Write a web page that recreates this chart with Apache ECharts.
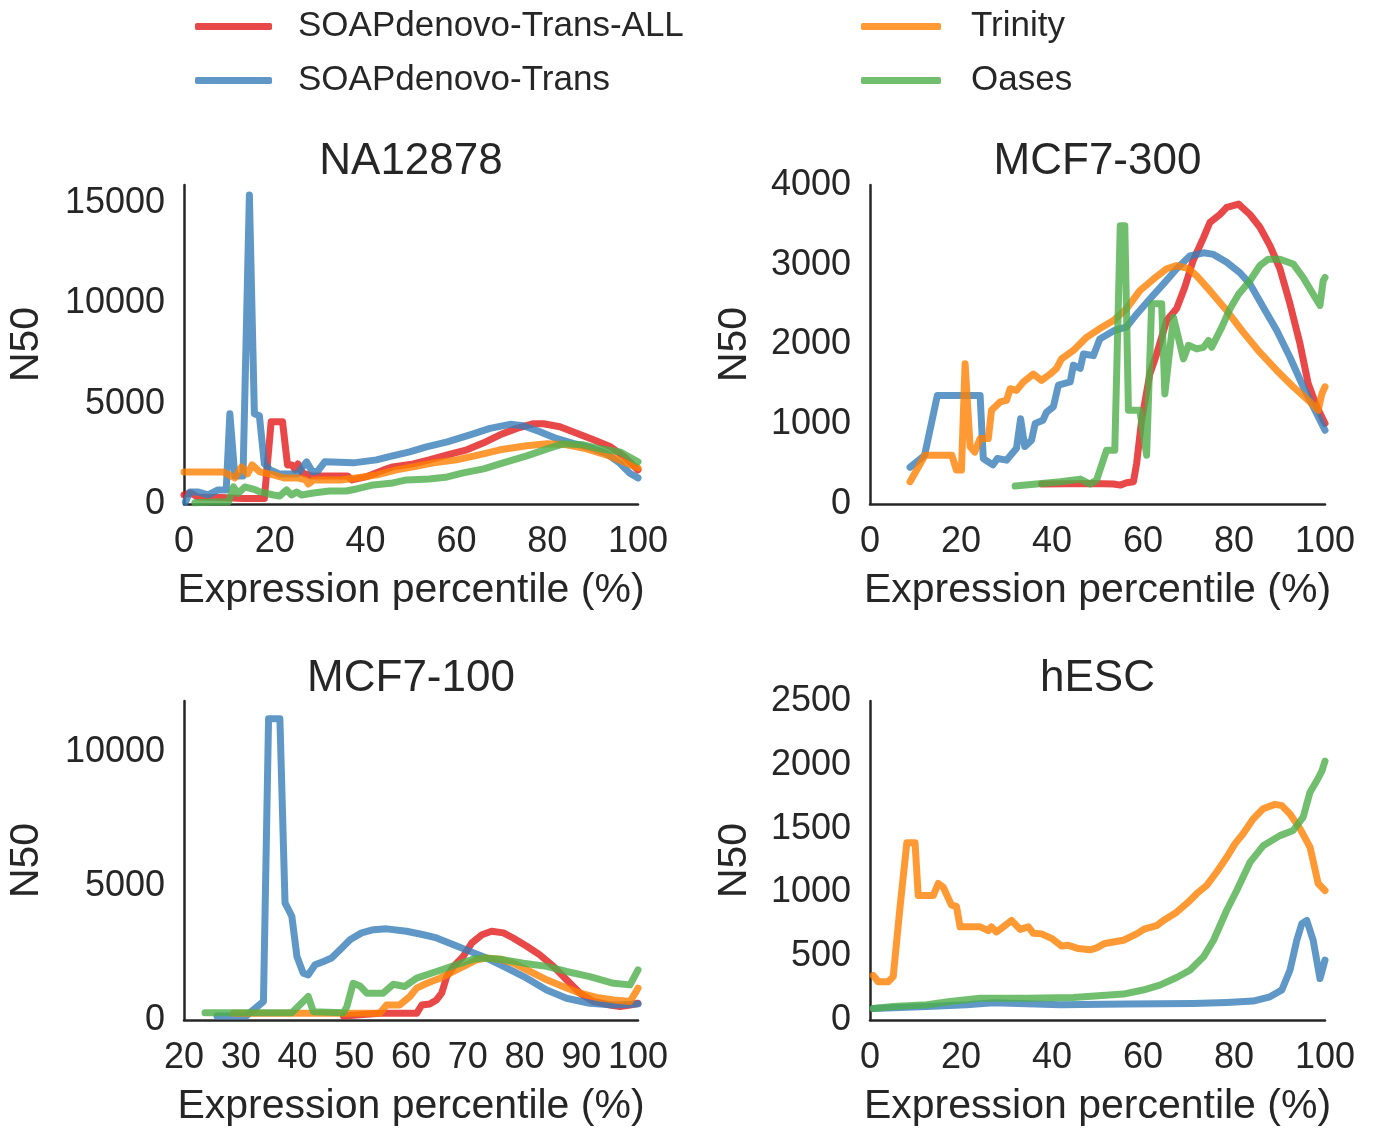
<!DOCTYPE html>
<html>
<head>
<meta charset="utf-8">
<script src="https://cdn.jsdelivr.net/npm/echarts@6/dist/echarts.min.js"></script>
<style>
  html, body { margin: 0; padding: 0; background: #fff; }
  #main { width: 1373px; height: 1129px; }
</style>
</head>
<body>
<div id="main"></div>
<script type="text/javascript">
// series names and panel titles
var names = ['SOAPdenovo-Trans-ALL', 'SOAPdenovo-Trans', 'Trinity', 'Oases'];
var titles = ['NA12878', 'MCF7-300', 'MCF7-100', 'hESC'];

// NA12878 : [percentile, N50]
var naAll = [[0,450],[1.5,550],[3,350],[8,330],[13,280],[17.7,280],[19.2,4100],[21.7,4100],[22.8,1950],[23.8,1950],[24.5,1700],[25.1,2000],[26,1550],[28,1400],[36,1400],[37,1200],[40,1350],[44,1700],[46,1850],[50.5,2000],[54,2200],[58,2450],[62.3,2700],[66,3050],[69.6,3450],[73.3,3770],[77,4000],[79.2,4000],[82.8,3850],[86.5,3530],[90.2,3200],[93.8,2870],[96.8,2390],[100,1700]];
var naTrans = [[0.3,100],[1.3,600],[3,600],[5.3,450],[7.5,700],[9.3,700],[10.1,4500],[11.2,1400],[13,1400],[14.4,15400],[15.5,4500],[16.6,4400],[17.7,2000],[19,1700],[21,1500],[25,1500],[27,2100],[28.3,1600],[29.5,1650],[31,2100],[37.3,2050],[42.4,2200],[45,2350],[49.7,2600],[53.4,2850],[58,3100],[63,3450],[67.4,3770],[71.8,3970],[74.7,3900],[78.4,3600],[82,3270],[85.7,3020],[90,2770],[93,2520],[96,2030],[98.2,1530],[100,1300]];
var naTrin = [[0,1600],[8.6,1600],[11.2,1300],[12.7,1850],[14,1500],[15,1950],[16.7,1600],[19.7,1450],[22,1300],[25,1300],[26.8,1200],[27.4,1000],[28.5,1200],[34.5,1200],[39.5,1350],[42.5,1450],[46.8,1700],[50.5,1850],[55,2050],[60,2200],[65,2450],[69.6,2700],[75.5,2900],[80,3000],[84.3,2950],[88.7,2750],[93,2450],[96.8,2100],[100,1800]];
var naOases = [[2.4,60],[6.5,100],[9.8,100],[10.9,850],[11.9,530],[13.4,850],[15.8,700],[16.8,600],[19.7,450],[21.1,400],[22.6,700],[23.7,450],[24.8,600],[25.9,450],[28.5,550],[32,650],[35.7,650],[38,750],[41.7,950],[46,1050],[49,1200],[54,1250],[58,1350],[61.5,1550],[66,1750],[70.3,2050],[75.5,2400],[80,2750],[83.5,3000],[88,2950],[91.6,2750],[96,2600],[100,2100]];

// MCF7-300
var m3All = [[37.7,250],[49,258],[53.5,250],[55,237],[56.4,267],[57.9,280],[58.6,508],[59.7,1050],[61.5,1630],[63,1880],[65.2,2300],[67.4,2450],[69.2,2720],[71,3050],[73.3,3340],[74.7,3530],[76.9,3630],[78.4,3720],[81,3760],[83.5,3630],[85.7,3470],[87.9,3240],[90.1,2950],[92.3,2510],[94.5,2010],[96.3,1510],[98.2,1220],[100,1010]];
var m3Trans = [[8.8,460],[12,610],[14.8,1360],[24.2,1360],[24.9,570],[27,490],[28,570],[30,550],[32.2,700],[33.1,1070],[34,720],[35.5,800],[36.3,1010],[38,1050],[38.8,1150],[40.3,1220],[41.4,1490],[44,1530],[44.7,1740],[46.2,1700],[46.9,1880],[49.1,1860],[50.5,2070],[53.5,2170],[56.4,2220],[58.6,2380],[61.5,2570],[64.5,2760],[67.4,2950],[70.3,3110],[73.3,3150],[75.5,3130],[78.4,3030],[81.3,2900],[83.5,2760],[86.4,2470],[89.4,2175],[92.3,1840],[95.2,1470],[97.8,1175],[100,925]];
var m3Trin = [[8.8,280],[12.1,610],[18,610],[19,425],[20.1,425],[20.9,1760],[22,720],[23,650],[24.2,820],[26,820],[26.7,1175],[28.6,1280],[30,1300],[30.8,1445],[32.2,1425],[33.7,1530],[35.9,1630],[37.7,1550],[39.6,1630],[41,1700],[42.1,1820],[44.7,1925],[47.6,2090],[50.5,2200],[53.5,2300],[56.4,2450],[59.3,2675],[62.3,2820],[65.2,2950],[67.4,2990],[70,2950],[71.8,2860],[74.7,2675],[78.4,2425],[82,2155],[85.7,1900],[89.4,1675],[93,1470],[96.7,1280],[98.5,1175],[99.3,1380],[100,1470]];
var m3Oases = [[31.9,225],[41.8,280],[46.2,312],[48.4,250],[49.8,300],[52,675],[53.8,675],[55,3490],[56,3490],[56.8,1175],[59.3,1175],[60.8,612],[61.9,2510],[64.1,2510],[64.8,1380],[66.7,2340],[68.9,1820],[70,1990],[71.8,1945],[73.3,1965],[74.4,2050],[75.1,1965],[77.3,2215],[79.1,2445],[81,2630],[83.5,2800],[85.7,2990],[87.5,3070],[90.1,3070],[93,3010],[95.2,2840],[97.4,2630],[98.9,2490],[99.6,2800],[100,2840]];

// MCF7-100
var m1All = [[48.1,150],[54.5,250],[61,250],[61.9,560],[63.3,600],[64.5,750],[65.4,1000],[66.3,1620],[67.5,2000],[69.2,2370],[70.7,2870],[72.5,3180],[74.2,3310],[76.3,3250],[78,3060],[80.4,2750],[82.7,2430],[85.1,2000],[87.4,1500],[89.8,1000],[92.1,690],[95.1,560],[96.8,500],[98.6,560],[100,625]];
var m1Trans = [[25.8,150],[31,150],[32.2,375],[34,690],[34.9,11235],[36.9,11235],[37.8,4370],[39,3870],[39.9,2370],[41,1750],[41.9,1685],[43.1,2060],[44.6,2185],[46,2310],[47.5,2620],[49.3,3000],[51.3,3250],[53.4,3370],[55.7,3400],[59.2,3310],[62.2,3180],[64.5,3060],[67.5,2810],[70.4,2560],[73.3,2310],[76.3,2000],[80.4,1560],[83.9,1120],[87.4,810],[91.5,625],[95.7,560],[100,600]];
var m1Trin = [[28.7,250],[54.5,250],[55.7,560],[58,560],[59.8,875],[61,1190],[62.8,1370],[65.1,1560],[67.5,1810],[69.8,2060],[71.6,2250],[73.3,2310],[75.7,2270],[78,2120],[81,1810],[83.9,1500],[86.8,1250],[89.8,1000],[92.7,840],[95.7,750],[98.6,690],[99.5,1000],[100,1190]];
var m1Oases = [[23.7,275],[39,275],[41.9,875],[42.8,310],[48.1,275],[48.7,500],[49.8,1370],[51,1270],[52.2,1000],[55.1,1000],[56.9,1335],[58.9,1250],[61,1560],[64.5,1810],[68,2060],[71,2270],[72.7,2310],[75.7,2270],[79.8,2120],[83.9,2000],[87.4,1810],[91.5,1620],[95.7,1370],[98.6,1310],[100,1870]];

// hESC
var hTrans = [[0.7,90],[12.5,105],[21.2,120],[27.1,135],[41.8,120],[56.4,125],[71,130],[78.4,138],[84.2,148],[87.9,182],[90.5,235],[92.3,390],[93.8,625],[94.9,755],[96,780],[97.4,625],[98.9,325],[100,470]];
var hTrin = [[0.7,350],[1.8,300],[4,300],[5.1,340],[6.6,885],[8.1,1390],[9.9,1390],[10.6,975],[13.9,975],[15,1070],[16.1,1040],[17.9,900],[19,890],[19.8,730],[24.2,730],[26,700],[26.7,730],[27.8,690],[29.3,730],[31.1,780],[33,710],[34.8,730],[35.9,680],[37.7,675],[39.9,640],[42.1,580],[43.6,585],[45.8,560],[48.4,550],[49.8,565],[51.6,600],[55.7,625],[58.6,675],[60.4,715],[63,740],[64.5,780],[67.4,845],[70,925],[71.8,990],[74,1055],[76.2,1160],[78.4,1275],[80.2,1380],[82,1460],[84.2,1575],[86.4,1655],[89,1690],[90.5,1680],[92.3,1615],[94.5,1500],[96.7,1355],[98.5,1070],[100,1015]];
var hOases = [[0.7,90],[5.1,105],[12.5,120],[17.6,145],[24.2,170],[34.4,170],[44.7,177],[55.7,203],[60,235],[63.7,273],[67.4,333],[70.3,390],[73.3,495],[75.5,625],[78.4,860],[80.6,1015],[83.5,1235],[86.4,1365],[90.1,1445],[93,1485],[95.2,1590],[96.7,1785],[98.2,1875],[99.3,1950],[100,2030]];

var colors = ['rgba(228,26,28,0.8)', 'rgba(55,126,184,0.8)', 'rgba(255,127,0,0.8)', 'rgba(77,175,74,0.8)'];
var ink = '#262626';
var font = 'Liberation Sans';

var chart = echarts.init(document.getElementById('main'));

// grid boxes (left, top, width, height)
var boxes = [[184, 185, 454, 319], [870, 185, 455, 319], [184, 701, 454, 319], [870, 701, 455, 319]];
var xRange = [[0, 100, 20], [0, 100, 20], [20, 100, 10], [0, 100, 20]];
var yRange = [[0, 15900, 5000], [0, 4000, 1000], [0, 11900, 5000], [0, 2500, 500]];
var yNameGap = [137, 115, 137, 115];

var grids = [], xAxes = [], yAxes = [], titleList = [];
for (var i = 0; i < 4; i++) {
    var b = boxes[i];
    grids.push({left: b[0], top: b[1], width: b[2], height: b[3]});
    titleList.push({
        text: titles[i], left: b[0] + b[2] / 2, top: i < 2 ? 140 : 657,
        textAlign: 'center', padding: 0,
        textStyle: {fontSize: 44, fontWeight: 'normal', color: ink, fontFamily: font}
    });
    xAxes.push({
        type: 'value', gridIndex: i, min: xRange[i][0], max: xRange[i][1], interval: xRange[i][2],
        name: 'Expression percentile (%)', nameLocation: 'middle', nameGap: 66,
        nameTextStyle: {fontSize: 41, color: ink, fontFamily: font},
        axisLine: {lineStyle: {color: ink, width: 2.5}},
        axisTick: {show: false},
        splitLine: {show: false},
        axisLabel: {fontSize: 36, color: ink, margin: 20, fontFamily: font}
    });
    yAxes.push({
        type: 'value', gridIndex: i, min: yRange[i][0], max: yRange[i][1], interval: yRange[i][2],
        name: 'N50', nameLocation: 'middle', nameGap: yNameGap[i], nameRotate: 90,
        nameTextStyle: {fontSize: 41, color: ink, fontFamily: font},
        axisLine: {show: true, lineStyle: {color: ink, width: 2.5}},
        axisTick: {show: false},
        splitLine: {show: false},
        axisLabel: {
            fontSize: 36, color: ink, margin: 19, fontFamily: font,
            showMaxLabel: yRange[i][1] % yRange[i][2] === 0,
            formatter: function (v) { return String(v); }
        }
    });
}

var panelData = [
    [naAll, naTrans, naTrin, naOases],
    [m3All, m3Trans, m3Trin, m3Oases],
    [m1All, m1Trans, m1Trin, m1Oases],
    [null, hTrans, hTrin, hOases]
];

var series = [];
for (var p = 0; p < 4; p++) {
    for (var s = 0; s < 4; s++) {
        if (!panelData[p][s]) continue;
        series.push({
            name: names[s], type: 'line', xAxisIndex: p, yAxisIndex: p,
            data: panelData[p][s], showSymbol: false, symbol: 'none',
            color: colors[s],
            lineStyle: {width: 7, color: colors[s], cap: 'round', join: 'round'}
        });
    }
}

var legendBase = {
    orient: 'vertical', top: 9, padding: 0, itemHeight: 7, itemGap: 19,
    icon: 'roundRect'
};

var option = {
    backgroundColor: '#fff',
    animation: false,
    textStyle: {fontFamily: font},
    title: titleList,
    legend: [
        Object.assign({}, legendBase, {
            left: 195, itemWidth: 77, data: [names[0], names[1]],
            textStyle: {fontSize: 35, color: ink, fontFamily: font, padding: [0, 0, 0, 21]}
        }),
        Object.assign({}, legendBase, {
            left: 861, itemWidth: 80, data: [names[2], names[3]],
            textStyle: {fontSize: 35, color: ink, fontFamily: font, padding: [0, 0, 0, 25]}
        })
    ],
    grid: grids,
    xAxis: xAxes,
    yAxis: yAxes,
    series: series
};

chart.setOption(option);
</script>
</body>
</html>
